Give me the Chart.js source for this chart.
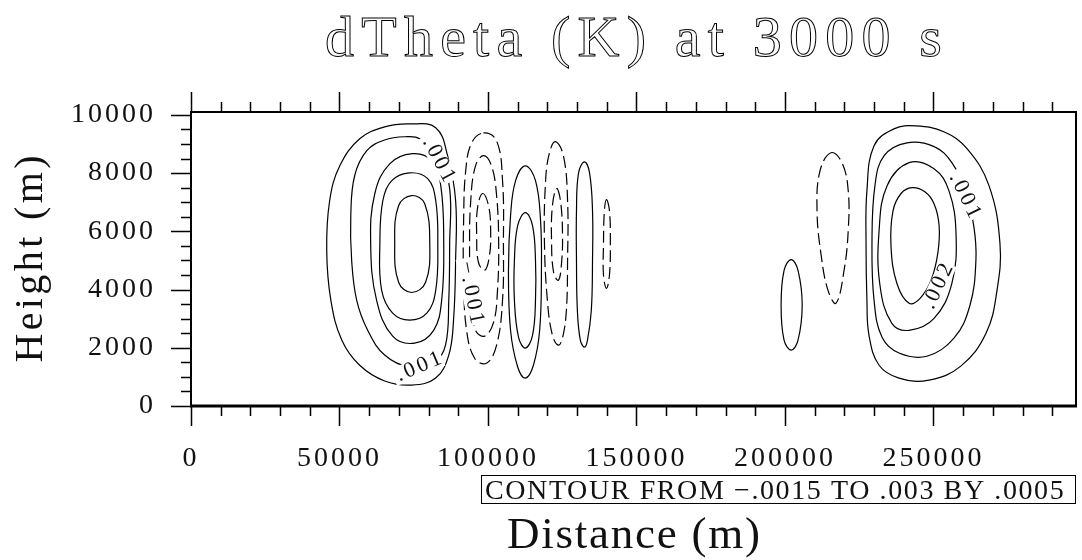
<!DOCTYPE html>
<html>
<head>
<meta charset="utf-8">
<title>dTheta (K) at 3000 s</title>
<script src="https://cdn.jsdelivr.net/npm/chart.js@4.4.1/dist/chart.umd.min.js"></script>
<style>
  html, body { margin: 0; padding: 0; background: #fff; }
  canvas { display: block; }
</style>
</head>
<body>
<canvas id="thetaChart" width="1082" height="560"></canvas>
<script>
// contour levels (K)
const levelMin = -0.0015;
const levelMax = 0.003;
const levelStep = 0.0005;

// domain (m)
const xMax = 298000;
const yMax = 10100;

const xTickValues = [0, 50000, 100000, 150000, 200000, 250000];
const yTickValues = [0, 2000, 4000, 6000, 8000, 10000];

// closed contour rings, [distance (m), height (m)]
const westWarm0005 = [[89100, 7060], [89100, 5000], [88400, 2950], [86800, 1750], [82400, 960], [74300, 720], [65200, 860], [56800, 1400], [50800, 2260], [47100, 3630], [45700, 5340], [46700, 7060], [50100, 8250], [56800, 9180], [65200, 9590], [73600, 9690], [82400, 9560], [86400, 8600]];
const westWarm001 = [[77000, 9180], [72000, 9250], [65200, 9140], [59200, 8770], [55100, 7910], [53800, 6540], [54100, 5000], [55800, 3630], [59500, 2600], [65200, 1750], [73600, 1340], [82000, 1510], [85700, 2090], [86800, 3630], [87100, 5580], [87100, 7470], [83700, 8490]];
const westWarm0015 = [[74600, 8670], [81000, 8430], [84100, 7570], [85100, 5580], [84400, 3630], [81700, 2600], [75300, 2160], [67900, 2400], [62500, 3630], [60500, 5580], [61900, 7300], [66900, 8320]];
const westWarm002 = [[73600, 8010], [79700, 7810], [82400, 7060], [83100, 5580], [82400, 3970], [79400, 3190], [73600, 2950], [67900, 3190], [64200, 3970], [63600, 5580], [64600, 7060], [67600, 7740]];
const westWarm0025 = [[74300, 7230], [78700, 6950], [80400, 5580], [79000, 4250], [74300, 3900], [69900, 4250], [68600, 5580], [69900, 6880]];

const cool1_0005 = [[98500, 9380], [102900, 9110], [104900, 7740], [105200, 5580], [104900, 3630], [102900, 2090], [99500, 1470], [95500, 1640], [92800, 2600], [91800, 4320], [91800, 6370], [92500, 8080], [94500, 9040]];
const cool1_001 = [[98500, 8600], [101200, 8250], [102900, 7230], [103600, 5580], [103200, 3970], [101900, 2880], [98900, 2400], [95800, 2600], [94200, 3630], [93800, 5340], [94200, 7060], [95800, 8250]];
const cool1_0015 = [[98200, 7300], [100200, 6880], [100900, 6030], [100500, 5170], [98900, 4660], [96800, 4930], [96200, 5860], [96500, 6820]];

const warm2_0005 = [[112600, 8250], [116000, 7740], [117700, 6370], [118000, 4660], [117400, 2600], [115300, 1400], [112600, 960], [110000, 1340], [107600, 2600], [106900, 4660], [107600, 6540], [109300, 7740]];
const warm2_001 = [[112600, 6640], [115000, 6200], [116000, 5000], [116000, 3630], [115000, 2430], [112600, 1990], [110300, 2360], [108900, 3630], [108900, 5000], [110000, 6200]];

const cool2_0005 = [[122700, 9080], [125400, 8600], [126800, 7060], [126800, 5000], [126400, 3290], [125100, 2330], [123700, 2090], [121700, 2430], [120000, 3630], [119000, 5690], [119400, 7740], [120700, 8700]];
const cool2_001 = [[123100, 7470], [124400, 7060], [125100, 5860], [124700, 4830], [123700, 4320], [122100, 4590], [121400, 5690], [121700, 6880]];

const warm3_0005 = [[132500, 8390], [134200, 8010], [135200, 6710], [135200, 5000], [134800, 3290], [133500, 2260], [132500, 2020], [131100, 2260], [130100, 3290], [129800, 5000], [129800, 6710], [130500, 8010]];
const cool3_0005 = [[139900, 7090], [140900, 6710], [141200, 5580], [140900, 4490], [139900, 4040], [138900, 4490], [138900, 5580], [139200, 6710]];

const warm4_0005 = [[202100, 5030], [204400, 4660], [205800, 3460], [204400, 2260], [202100, 1920], [199700, 2260], [198700, 3460], [199700, 4660]];
const cool4_0005 = [[215500, 8700], [219200, 8360], [221300, 7400], [221300, 6030], [219900, 4660], [217200, 3530], [214500, 3970], [212200, 5170], [210800, 6710], [211800, 8080]];

const eastWarm0005 = [[227600, 3630], [227300, 5580], [227600, 7400], [230000, 8940], [236700, 9520], [244100, 9620], [253500, 9420], [261300, 8840], [268700, 7570], [272400, 5580], [271400, 3970], [267700, 2500], [259200, 1370], [248500, 890], [238400, 960], [231700, 1400], [228300, 2430]];
const eastWarm001 = [[263600, 6170], [264300, 5000], [262300, 3460], [256900, 2330], [247800, 1710], [238400, 1820], [232700, 2360], [230000, 3630], [229300, 5580], [230300, 7570], [233400, 8600], [241100, 9040], [250200, 8910], [256200, 8360], [260900, 7330]];
const eastWarm0015 = [[241800, 8360], [250200, 8150], [255200, 7400], [257600, 5930], [256200, 4210], [250200, 3010], [241800, 2600], [236000, 2840], [232000, 4140], [231700, 6030], [234400, 7570]];
const eastWarm002 = [[242800, 7500], [247100, 7360], [250200, 6950], [251900, 6200], [251500, 5270], [249200, 4320], [245500, 3700], [241800, 3530], [237700, 4210], [235700, 5510], [236400, 6710], [239100, 7300]];

const contours = [
    { level: 0.0005, points: westWarm0005 },
    { level: 0.001, points: westWarm001 },
    { level: 0.0015, points: westWarm0015 },
    { level: 0.002, points: westWarm002 },
    { level: 0.0025, points: westWarm0025 },
    { level: -0.0005, points: cool1_0005 },
    { level: -0.001, points: cool1_001 },
    { level: -0.0015, points: cool1_0015 },
    { level: 0.0005, points: warm2_0005 },
    { level: 0.001, points: warm2_001 },
    { level: -0.0005, points: cool2_0005 },
    { level: -0.001, points: cool2_001 },
    { level: 0.0005, points: warm3_0005 },
    { level: -0.0005, points: cool3_0005 },
    { level: 0.0005, points: warm4_0005 },
    { level: -0.0005, points: cool4_0005 },
    { level: 0.0005, points: eastWarm0005 },
    { level: 0.001, points: eastWarm001 },
    { level: 0.0015, points: eastWarm0015 },
    { level: 0.002, points: eastWarm002 }
];

// in-line contour labels: level, anchor (m), angle (deg)
const contourLabels = [
    { level: 0.001, x: 83400, y: 8460, angle: 62 },
    { level: 0.001, x: 76700, y: 1340, angle: -23 },
    { level: -0.001, x: 94300, y: 3900, angle: 79 },
    { level: 0.001, x: 260600, y: 7230, angle: 64 },
    { level: 0.002, x: 251500, y: 4110, angle: -65 }
];

const serif = '"Liberation Serif", "Times New Roman", serif';

// .001 style numbers, as NCL prints them
function fmt(v) {
    return String(v).replace(/^(-?)0\./, '$1.').replace('-', '\u2212');
}

// Chart.js has no closed-curve option for line datasets, so mark each ring as a loop
const closedRings = {
    id: 'closedRings',
    afterDatasetsUpdate(chart) {
        chart.data.datasets.forEach((ds, i) => {
            const line = chart.getDatasetMeta(i).dataset;
            if (!line) return;
            line._loop = true;
            line._fullLoop = true;
            line._segments = undefined;
            line._path = undefined;
            line._pointsUpdated = false;
        });
    }
};

function spacedText(ctx, text, x, y, size, spacing, align, outline) {
    ctx.font = size + 'px ' + serif;
    ctx.letterSpacing = spacing + 'px';
    ctx.textAlign = align;
    // letterSpacing also trails the last glyph
    const nudge = align === 'center' ? spacing / 2 : (align === 'right' ? spacing : 0);
    if (outline) {
        ctx.lineWidth = outline;
        ctx.strokeText(text, x + nudge, y);
    } else {
        ctx.fillText(text, x + nudge, y);
    }
}

const frame = {
    id: 'frame',
    beforeDraw(chart) {
        chart.ctx.letterSpacing = '3px';
    },
    afterDatasetsDraw(chart) {
        const { ctx, scales: { x, y } } = chart;
        ctx.save();
        ctx.font = '22px ' + serif;
        ctx.letterSpacing = '3px';
        ctx.textBaseline = 'middle';
        ctx.textAlign = 'left';
        contourLabels.forEach(lab => {
            const text = fmt(lab.level);
            const w = ctx.measureText(text).width;
            ctx.save();
            ctx.translate(x.getPixelForValue(lab.x), y.getPixelForValue(lab.y));
            ctx.rotate(lab.angle * Math.PI / 180);
            ctx.fillStyle = '#fff';
            ctx.fillRect(-w / 2 - 2, -9, w + 2, 18);
            ctx.fillStyle = '#111';
            ctx.fillText(text, -w / 2 + 1.5, 0);
            ctx.restore();
        });
        ctx.restore();
    },
    afterDraw(chart) {
        const { ctx, chartArea: a, scales: { x, y } } = chart;
        ctx.save();
        ctx.strokeStyle = '#000';
        ctx.fillStyle = '#111';

        // tick marks, pointing outward
        ctx.lineWidth = 1.5;
        ctx.beginPath();
        for (let v = 0; v <= yMax; v += 500) {
            const py = Math.round(y.getPixelForValue(v)) + 0.5;
            const len = v % 2000 === 0 ? 20 : 10;
            ctx.moveTo(a.left - len, py);
            ctx.lineTo(a.left, py);
        }
        for (let v = 0; v <= xMax; v += 10000) {
            const px = Math.round(x.getPixelForValue(v)) + 0.5;
            const len = v % 50000 === 0 ? 20 : 10;
            ctx.moveTo(px, a.bottom);
            ctx.lineTo(px, a.bottom + len);
            ctx.moveTo(px, a.top - len);
            ctx.lineTo(px, a.top);
        }
        ctx.stroke();

        // plot frame
        ctx.lineWidth = 2;
        ctx.strokeRect(a.left, a.top, a.right - a.left, a.bottom - a.top);
        ctx.lineWidth = 3;
        ctx.beginPath();
        ctx.moveTo(a.left - 1, a.bottom);
        ctx.lineTo(a.right + 1, a.bottom);
        ctx.stroke();

        const cx = (a.left + a.right) / 2;
        ctx.textBaseline = 'alphabetic';
        spacedText(ctx, 'dTheta (K) at 3000 s', cx, 56, 58, 7.2, 'center', 1);
        spacedText(ctx, 'Distance (m)', cx, 548, 45, 1.75, 'center');

        ctx.save();
        ctx.translate(42, (a.top + a.bottom) / 2);
        ctx.rotate(-Math.PI / 2);
        spacedText(ctx, 'Height (m)', 0, 0, 40, 3.4, 'center');
        ctx.restore();

        // contour info box
        const info = 'CONTOUR FROM ' + fmt(levelMin) + ' TO ' + fmt(levelMax) + ' BY ' + fmt(levelStep);
        ctx.lineWidth = 1;
        ctx.strokeRect(481.5, 475.5, a.right - 482, 28);
        spacedText(ctx, info, 485, 499, 28, 1.6, 'left');
        ctx.restore();
    }
};

const tickFont = { family: serif, size: 28 };

const ctx = document.getElementById('thetaChart').getContext('2d');
const thetaChart = new Chart(ctx, {
    type: 'line',
    data: {
        datasets: contours.map(c => ({
            label: fmt(c.level),
            data: c.points.map(p => ({ x: p[0], y: p[1] })),
            borderColor: '#000',
            borderWidth: 1.2,
            borderDash: c.level < 0 ? [12, 5] : [],
            pointRadius: 0,
            tension: 0.4,
            fill: false
        }))
    },
    options: {
        responsive: false,
        animation: false,
        events: [],
        layout: { padding: { left: 0, right: 6, top: 112, bottom: 0 } },
        plugins: {
            legend: { display: false },
            tooltip: { enabled: false }
        },
        scales: {
            x: {
                type: 'linear',
                min: 0,
                max: xMax,
                afterBuildTicks: s => { s.ticks = xTickValues.map(v => ({ value: v })); },
                afterFit: s => { s.height = 154; },
                grid: { display: false, drawTicks: false },
                border: { display: false },
                ticks: {
                    padding: 36,
                    maxRotation: 0,
                    autoSkip: false,
                    color: '#111',
                    font: tickFont,
                    callback: v => String(v)
                }
            },
            y: {
                type: 'linear',
                min: 0,
                max: yMax,
                afterBuildTicks: s => { s.ticks = yTickValues.map(v => ({ value: v })); },
                afterFit: s => { s.width = 191; },
                grid: { display: false, drawTicks: false },
                border: { display: false },
                ticks: {
                    padding: 35,
                    autoSkip: false,
                    color: '#111',
                    font: tickFont,
                    callback: v => String(v)
                }
            }
        }
    },
    plugins: [closedRings, frame]
});
</script>
</body>
</html>
